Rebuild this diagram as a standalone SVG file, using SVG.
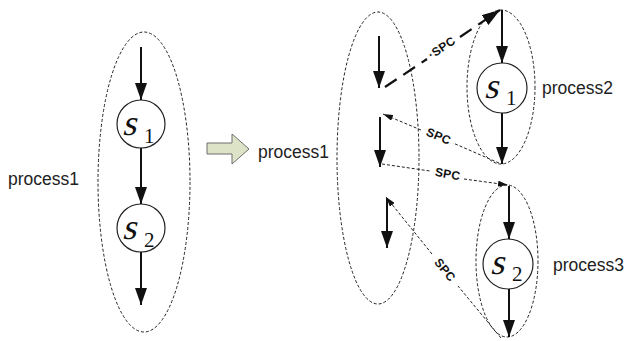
<svg xmlns="http://www.w3.org/2000/svg" width="629" height="341" viewBox="0 0 629 341">
<defs>
<style>
.proc{fill:none;stroke:#222;stroke-width:1;stroke-dasharray:3,2}
.flow{stroke:#111;stroke-width:2;fill:none}
.st{fill:#fff;stroke:#222;stroke-width:1.2}
.s{font-family:"Liberation Serif","Times New Roman",serif;font-size:36px;fill:#111}
.sub{font-family:"Liberation Serif","Times New Roman",serif;font-size:21px;fill:#111}
.lbl{font-family:"Liberation Sans",Arial,sans-serif;font-size:17.5px;fill:#222}
.spc{font-family:"Liberation Sans",Arial,sans-serif;font-size:12px;font-weight:bold;fill:#111;letter-spacing:0.3px}
.thin{stroke:#222;stroke-width:1;stroke-dasharray:3,2;fill:none}
.thick{stroke:#111;stroke-width:2.2;stroke-dasharray:14,8;fill:none}
</style>
<marker id="ah" markerUnits="userSpaceOnUse" markerWidth="17" markerHeight="12" refX="17" refY="6" viewBox="0 0 17 12" orient="auto">
<path d="M0,0 L17,6 L0,12 Z" fill="#111"/>
</marker>
<marker id="ahs" markerUnits="userSpaceOnUse" markerWidth="10" markerHeight="6" refX="10" refY="3" viewBox="0 0 10 6" orient="auto">
<path d="M0,0 L10,3 L0,6 Z" fill="#111"/>
</marker>
<marker id="ahm" markerUnits="userSpaceOnUse" markerWidth="18" markerHeight="12" refX="18" refY="6" viewBox="0 0 18 12" orient="auto">
<path d="M0,0 L18,6 L0,12 Z" fill="#111"/>
</marker>
</defs>

<g id="process1-left">
<ellipse class="proc" cx="144" cy="182" rx="46" ry="150"/>
<text class="lbl" x="8" y="185">process1</text>
</g>
<g id="s1-left">
<circle class="st" cx="141" cy="124" r="24"/>
<text class="s" transform="translate(122,135) skewX(-14)">s</text><text class="sub" x="144" y="143">1</text>
</g>
<g id="s2-left">
<circle class="st" cx="141" cy="228" r="24"/>
<text class="s" transform="translate(122,239) skewX(-14)">s</text><text class="sub" x="144" y="247">2</text>
</g>

<g id="transform-arrow">
<polygon points="207,143 232,143 232,134 249,149 232,164 232,154 207,154" fill="#dde3c6" stroke="#6f6f6f" stroke-width="1"/>
</g>

<g id="process1-right">
<ellipse class="proc" cx="378" cy="158" rx="41" ry="146"/>
<text class="lbl" x="258" y="158">process1</text>
</g>

<g id="process2">
<ellipse class="proc" cx="501" cy="87" rx="34" ry="77"/>
<text class="lbl" x="542" y="94">process2</text>
</g>
<g id="s1-right">
<circle class="st" cx="502" cy="88" r="25"/>
<text class="s" transform="translate(484,98) skewX(-14)">s</text><text class="sub" x="506" y="105">1</text>
</g>

<g id="process3">
<ellipse class="proc" cx="507" cy="261" rx="31" ry="76"/>
<text class="lbl" x="553" y="271">process3</text>
</g>
<g id="s2-right">
<circle class="st" cx="508" cy="264" r="25"/>
<text class="s" transform="translate(490,274) skewX(-14)">s</text><text class="sub" x="512" y="281">2</text>
</g>

<g id="connectors">
<line class="flow" x1="141" y1="47" x2="141" y2="100" marker-end="url(#ah)"/>
<line class="flow" x1="141" y1="148" x2="141" y2="204" marker-end="url(#ah)"/>
<line class="flow" x1="141" y1="252" x2="141" y2="305" marker-end="url(#ah)"/>

<line class="flow" x1="379" y1="36" x2="379" y2="88" marker-end="url(#ah)"/>
<line class="flow" x1="380" y1="117" x2="380" y2="167" marker-end="url(#ah)"/>
<line class="flow" x1="387" y1="198" x2="387" y2="248" marker-end="url(#ah)"/>

<line class="flow" x1="502" y1="10" x2="502" y2="63" marker-end="url(#ah)"/>
<line class="flow" x1="502" y1="113" x2="502" y2="164" marker-end="url(#ah)"/>
<line class="flow" x1="509" y1="186" x2="509" y2="239" marker-end="url(#ah)"/>
<line class="flow" x1="509" y1="289" x2="509" y2="337" marker-end="url(#ah)"/>

<path class="thick" d="M385,87 L427,59"/>
<path class="thick" d="M460,37 L500,10" marker-end="url(#ahm)"/>
<text class="spc" transform="translate(444,51) rotate(-34)" text-anchor="middle">·SPC</text>

<path class="thin" d="M499,163 L453,143"/>
<path class="thin" d="M421,130 L383,114" marker-end="url(#ahs)"/>
<text class="spc" transform="translate(437,140) rotate(23)" text-anchor="middle">SPC</text>

<path class="thin" d="M382,164 L430,171"/>
<path class="thin" d="M464,179 L508,185" marker-end="url(#ahs)"/>
<text class="spc" transform="translate(447,178) rotate(10)" text-anchor="middle">SPC</text>

<path class="thin" d="M501,338 L458,286"/>
<path class="thin" d="M432,254 L386,197" marker-end="url(#ahs)"/>
<text class="spc" transform="translate(445,270) rotate(51)" text-anchor="middle" dy="4">SPC</text>
</g>
</svg>
